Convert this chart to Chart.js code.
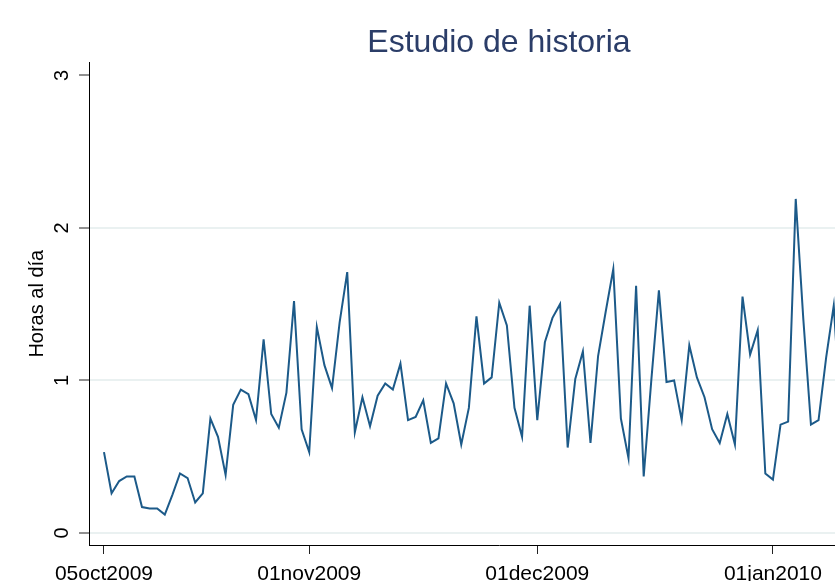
<!DOCTYPE html>
<html lang="es">
<head>
<meta charset="UTF-8">
<title>Estudio de historia</title>
<script src="https://cdn.jsdelivr.net/npm/chart.js"></script>
<style>
    html, body { margin: 0; padding: 0; background: #ffffff; overflow: hidden; }
    #wrap { width: 909px; height: 581px; }
</style>
</head>
<body>
<div id="wrap"><canvas id="studyChart" width="909" height="581"></canvas></div>
<script>
    // daily hours, day 0 = 05oct2009
    const hours = [
        0.53, 0.26, 0.34, 0.37, 0.37, 0.17, 0.16, 0.16, 0.12, 0.25,
        0.39, 0.36, 0.20, 0.26, 0.75, 0.63, 0.38, 0.84, 0.94, 0.91,
        0.74, 1.27, 0.78, 0.69, 0.92, 1.52, 0.68, 0.53, 1.35, 1.10,
        0.95, 1.38, 1.71, 0.66, 0.89, 0.70, 0.90, 0.98, 0.94, 1.11,
        0.74, 0.76, 0.87, 0.59, 0.62, 0.98, 0.85, 0.58, 0.82, 1.42,
        0.98, 1.02, 1.51, 1.36, 0.82, 0.63, 1.49, 0.74, 1.25, 1.41,
        1.50, 0.56, 1.01, 1.19, 0.59, 1.16, 1.45, 1.73, 0.75, 0.49,
        1.62, 0.37, 1.00, 1.59, 0.99, 1.00, 0.74, 1.23, 1.02, 0.89,
        0.68, 0.59, 0.78, 0.58, 1.55, 1.17, 1.33, 0.39, 0.35, 0.71,
        0.73, 2.19, 1.40, 0.71, 0.74, 1.15, 1.49, 0.70
    ];
    const xTickDays = [0, 27, 57, 88];
    const xTickLabels = ['05oct2009', '01nov2009', '01dec2009', '01jan2010'];
    const yTicks = [0, 1, 2, 3];

    const points = hours.map((v, i) => ({ x: i, y: v }));
    const font = 'Liberation Sans, Arial, Helvetica, sans-serif';

    new Chart(document.getElementById('studyChart'), {
        type: 'line',
        data: {
            datasets: [{
                data: points,
                borderColor: '#1c5a89',
                borderWidth: 2,
                pointRadius: 0,
                tension: 0,
                fill: false
            }]
        },
        options: {
            responsive: false,
            animation: false,
            layout: { padding: 0 },
            plugins: {
                legend: { display: false },
                tooltip: { enabled: false },
                title: {
                    display: true,
                    fullSize: false,
                    text: 'Estudio de historia',
                    color: '#2b3d68',
                    font: { family: font, size: 32, weight: 'normal' },
                    padding: { top: 24, bottom: 0 }
                }
            },
            scales: {
                x: {
                    type: 'linear',
                    min: -1.97,
                    max: 105.9,
                    afterBuildTicks: s => { s.ticks = xTickDays.map(v => ({ value: v })); },
                    afterFit: s => { s.height = 36; },
                    grid: { drawOnChartArea: false, drawTicks: true, tickLength: 9, tickColor: '#222', tickWidth: 1 },
                    border: { color: '#000', width: 1 },
                    ticks: {
                        autoSkip: false,
                        maxRotation: 0,
                        padding: 8,
                        color: '#000',
                        font: { family: font, size: 21 },
                        callback: v => xTickLabels[xTickDays.indexOf(v)]
                    }
                },
                y: {
                    min: -0.079,
                    max: 3.085,
                    afterBuildTicks: s => { s.ticks = yTicks.map(v => ({ value: v })); },
                    afterFit: s => { s.width = 89; },
                    grid: {
                        color: c => (c.tick && c.tick.value === 3) ? 'rgba(0,0,0,0)' : '#eaf1f1',
                        lineWidth: 2,
                        tickLength: 10,
                        tickColor: '#222',
                        tickWidth: 1
                    },
                    border: { color: '#000', width: 1 },
                    ticks: {
                        minRotation: 90,
                        maxRotation: 90,
                        crossAlign: 'center',
                        padding: 11,
                        color: '#000',
                        font: { family: font, size: 20 }
                    },
                    title: {
                        display: true,
                        text: 'Horas al día',
                        color: '#000',
                        font: { family: font, size: 20 },
                        padding: { top: 25, bottom: 0 }
                    }
                }
            }
        }
    });
</script>
</body>
</html>
